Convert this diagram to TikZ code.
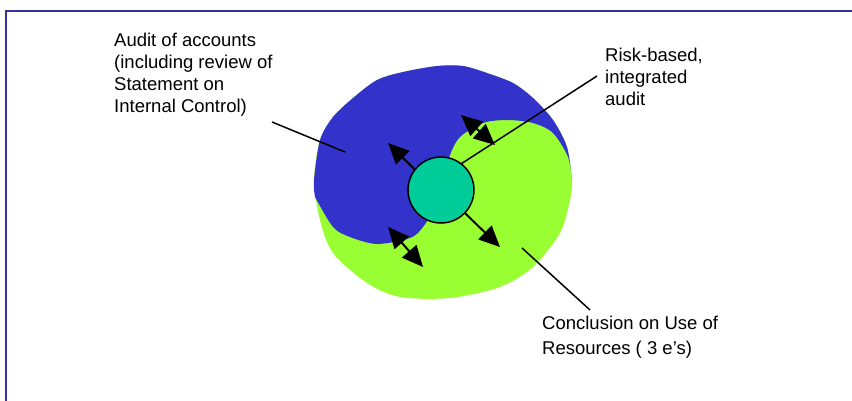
\documentclass[tikz,border=0pt]{standalone}
\usepackage{fontspec}
\setmainfont{Liberation Sans}
\usetikzlibrary{arrows.meta}
\definecolor{frameblue}{HTML}{333399}
\definecolor{yinblue}{HTML}{3333CC}
\definecolor{yanggreen}{HTML}{99FF33}
\definecolor{coreteal}{HTML}{00CC99}
\begin{document}
\begin{tikzpicture}[x=1pt,y=-1pt,
  lbl/.style={font=\fontsize{18.5}{22}\selectfont, align=left, inner sep=0pt, anchor=base west},
  leader/.style={line width=1.5pt},
  onearrow/.style={line width=2pt, -{Triangle[length=21pt,width=19pt]}},
  twoarrow/.style={line width=2pt, {Triangle[length=21pt,width=19pt]}-{Triangle[length=21pt,width=19pt]}}]
\useasboundingbox (0,0) rectangle (852,401);
\draw[frameblue, line width=2pt] (6,401) -- (6,11) -- (852,11);
% whole disc (green underneath)
\fill[yanggreen] plot[smooth cycle] coordinates {(314,180) (320,140) (333,117) (353,98) (377,80) (403,72) (437,66) (463,66) (487,73) (513,83) (533,98) (553,120) (567,147) (572,180) (570,200) (560,233) (533,267) (500,287) (450,298) (400,297) (367,283) (333,253) (320,220)};
% blue half
\fill[yinblue] plot[smooth] coordinates {(315,197) (314,180) (320,140) (333,117) (353,98) (377,80) (403,72) (437,66) (463,66) (487,73) (513,83) (533,98) (553,120) (567,147) (572,180)}
  -- plot[smooth] coordinates {(572,180) (568,157) (553,133) (533,123) (507,120) (483,123) (460,137) (450,155) (443,180) (436,205) (423,227) (410,238) (377,244) (350,237) (333,227) (315,197)} -- cycle;
% core
\node[circle, draw, line width=1.5pt, fill=coreteal, minimum size=66pt, inner sep=0pt] (core) at (441,190) {};
% arrows
\coordinate (ulTip) at (388,143);
\coordinate (lrTip) at (500,247);
\coordinate (upA) at (461,115);
\coordinate (upB) at (495,145);
\coordinate (loA) at (388,227);
\coordinate (loB) at (423,267);
\draw[onearrow] (core.142) -- (ulTip);
\draw[onearrow] (core.-44) -- (lrTip);
\draw[twoarrow] (upA) -- (upB);
\draw[twoarrow] (loA) -- (loB);
% labels (anchored at the baseline of their last line)
\node[lbl] (audit) at (114,113) {Audit of accounts\\(including review of\\Statement on\\Internal Control)};
\node[lbl] (risk) at (605,106) {Risk-based,\\integrated\\audit};
\node[lbl, font=\fontsize{18.5}{25}\selectfont] (concl) at (542,354) {Conclusion on Use of\\Resources ( 3 e’s)};
% leaders
\coordinate (auditStart) at (272,122);
\coordinate (auditEnd) at (345,152);
\coordinate (riskStart) at (597,76);
\coordinate (conclStart) at (590,310);
\coordinate (conclEnd) at (522,248);
\draw[leader] (auditStart) -- (auditEnd);
\draw[leader] (riskStart) -- (core.52);
\draw[leader] (conclStart) -- (conclEnd);
\end{tikzpicture}
\end{document}
